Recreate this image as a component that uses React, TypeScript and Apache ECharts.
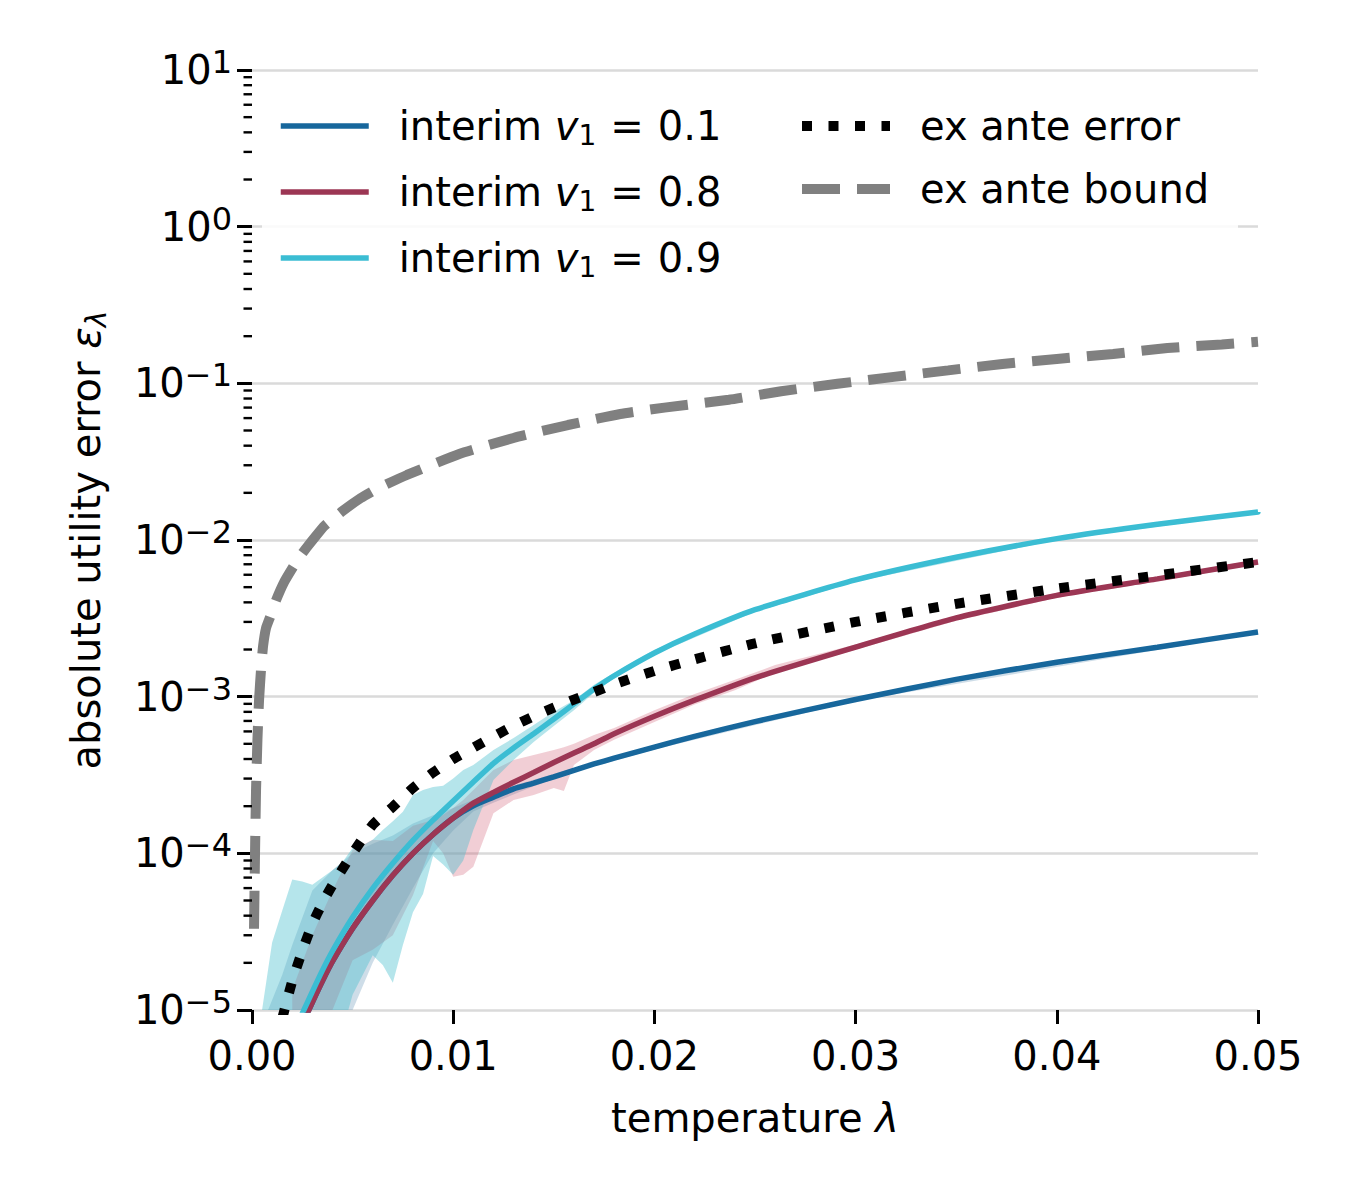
import React, { useEffect, useRef } from "react";
import * as echarts from "echarts";

const FONT = "DejaVu Sans";

// ---------- data ----------
const lambdas = [0.002, 0.0025, 0.003, 0.0035, 0.004, 0.005, 0.006, 0.007, 0.008, 0.009, 0.01, 0.011, 0.012, 0.013, 0.014, 0.015, 0.016, 0.017, 0.018, 0.02, 0.022, 0.025, 0.03, 0.035, 0.04, 0.045, 0.05];
const interim01 = [5.75e-6, 8.1e-6, 1.12e-5, 1.53e-5, 2.04e-5, 3.31e-5, 5.0e-5, 7.24e-5, 1.0e-4, 1.32e-4, 1.68e-4, 2.01e-4, 2.28e-4, 2.58e-4, 2.81e-4, 3.08e-4, 3.39e-4, 3.72e-4, 4.05e-4, 4.76e-4, 5.58e-4, 6.93e-4, 9.6e-4, 1.29e-3, 1.66e-3, 2.07e-3, 2.59e-3];
const interim08 = [5.75e-6, 8.1e-6, 1.12e-5, 1.53e-5, 2.04e-5, 3.31e-5, 5.0e-5, 7.24e-5, 1.0e-4, 1.32e-4, 1.68e-4, 2.09e-4, 2.45e-4, 2.84e-4, 3.28e-4, 3.8e-4, 4.37e-4, 5.0e-4, 5.8e-4, 7.5e-4, 9.5e-4, 1.32e-3, 2.07e-3, 3.18e-3, 4.43e-3, 5.65e-3, 7.24e-3];
const interim09 = [6.8e-6, 9.5e-6, 1.31e-5, 1.79e-5, 2.38e-5, 3.91e-5, 5.98e-5, 8.65e-5, 1.21e-4, 1.63e-4, 2.16e-4, 2.85e-4, 3.75e-4, 4.7e-4, 5.8e-4, 7.2e-4, 9.0e-4, 1.12e-3, 1.36e-3, 1.9e-3, 2.51e-3, 3.59e-3, 5.56e-3, 7.76e-3, 1.02e-2, 1.26e-2, 1.51e-2];

const exAnteLambdas = [0.0015, 0.002, 0.0025, 0.003, 0.0035, 0.004, 0.005, 0.006, 0.007, 0.008, 0.009, 0.01, 0.011, 0.012, 0.013, 0.014, 0.015, 0.016, 0.017, 0.018, 0.02, 0.022, 0.025, 0.03, 0.035, 0.04, 0.045, 0.05];
const exAnteError = [8.8e-6, 1.53e-5, 2.38e-5, 3.54e-5, 4.82e-5, 6.28e-5, 1.0e-4, 1.52e-4, 1.98e-4, 2.61e-4, 3.28e-4, 4.0e-4, 4.72e-4, 5.56e-4, 6.52e-4, 7.5e-4, 8.5e-4, 9.58e-4, 1.07e-3, 1.2e-3, 1.46e-3, 1.73e-3, 2.19e-3, 3.0e-3, 3.91e-3, 4.9e-3, 5.94e-3, 7.24e-3];

const boundLambdas = [0.0001, 0.00015, 0.0002, 0.00027, 0.00035, 0.00045, 0.00055, 0.0007, 0.0009, 0.0012, 0.0016, 0.0021, 0.0024, 0.0027, 0.0032, 0.0036, 0.0045, 0.0054, 0.0062, 0.0077, 0.0103, 0.013, 0.0157, 0.0183, 0.0205, 0.0237, 0.0263, 0.0291, 0.0319, 0.0346, 0.0373, 0.04, 0.0428, 0.0455, 0.0482, 0.05];
const exAnteBound = [3.3e-5, 1.0e-4, 2.5e-4, 5.3e-4, 9.5e-4, 1.5e-3, 2.1e-3, 2.75e-3, 3.23e-3, 4.14e-3, 5.4e-3, 6.92e-3, 7.9e-3, 8.89e-3, 1.07e-2, 1.23e-2, 1.53e-2, 1.85e-2, 2.12e-2, 2.6e-2, 3.54e-2, 4.48e-2, 5.42e-2, 6.37e-2, 7.0e-2, 7.85e-2, 8.9e-2, 9.93e-2, 0.11, 0.121, 0.133, 0.143, 0.154, 0.168, 0.177, 0.184];

// spread bands (lower / upper)
const band09Lambdas = [0.0005, 0.001, 0.0015, 0.002, 0.0025, 0.003, 0.0035, 0.004, 0.0045, 0.005, 0.0055, 0.006, 0.0065, 0.007, 0.0075, 0.008, 0.0085, 0.009, 0.0095, 0.01, 0.0105, 0.011, 0.012, 0.013, 0.014, 0.015, 0.016, 0.017, 0.018, 0.02, 0.025, 0.03, 0.04, 0.05];
const band09Hi = [1.0e-5, 2.7e-5, 4.3e-5, 6.8e-5, 6.6e-5, 6.3e-5, 7.0e-5, 7.8e-5, 8.8e-5, 1.08e-4, 1.12e-4, 1.22e-4, 1.41e-4, 1.6e-4, 1.84e-4, 2.36e-4, 2.54e-4, 2.65e-4, 2.7e-4, 3.0e-4, 3.4e-4, 3.66e-4, 4.57e-4, 5.44e-4, 6.6e-4, 8.0e-4, 9.5e-4, 1.19e-3, 1.42e-3, 1.99e-3, 3.7e-3, 5.7e-3, 1.04e-2, 1.54e-2];
const band09Lo = [1e-6, 1e-6, 1e-6, 1e-6, 1e-6, 2e-6, 3e-6, 5e-6, 7.4e-6, 1.25e-5, 1.67e-5, 2.24e-5, 1.94e-5, 1.49e-5, 2.6e-5, 4.2e-5, 5.5e-5, 9.6e-5, 8.5e-5, 7.3e-5, 9.0e-5, 1.41e-4, 2.94e-4, 3.94e-4, 5.14e-4, 6.5e-4, 8.2e-4, 1.06e-3, 1.31e-3, 1.85e-3, 3.48e-3, 5.42e-3, 1.0e-2, 1.48e-2];

const band08Lambdas = [0.002, 0.003, 0.004, 0.005, 0.006, 0.007, 0.008, 0.009, 0.0095, 0.01, 0.0105, 0.011, 0.012, 0.013, 0.014, 0.015, 0.0155, 0.016, 0.017, 0.018, 0.02, 0.022, 0.024, 0.026, 0.03, 0.035, 0.04, 0.045, 0.05];
const band08Hi = [1.34e-5, 3.0e-5, 5.8e-5, 1.05e-4, 1.22e-4, 1.2e-4, 1.5e-4, 1.63e-4, 1.76e-4, 1.95e-4, 2.19e-4, 2.54e-4, 3.4e-4, 3.94e-4, 4.25e-4, 4.57e-4, 4.75e-4, 5.0e-4, 5.7e-4, 6.3e-4, 8.2e-4, 1.04e-3, 1.28e-3, 1.59e-3, 2.15e-3, 3.3e-3, 4.6e-3, 5.85e-3, 7.5e-3];
const band08Lo = [5e-6, 8e-6, 1.0e-5, 2.08e-5, 2.42e-5, 3.0e-5, 5.4e-5, 1.2e-4, 1.0e-4, 7.1e-5, 7.3e-5, 8.2e-5, 1.8e-4, 2.19e-4, 2.36e-4, 2.61e-4, 2.5e-4, 3.66e-4, 4.57e-4, 5.3e-4, 6.9e-4, 8.9e-4, 1.1e-3, 1.42e-3, 1.99e-3, 3.05e-3, 4.28e-3, 5.45e-3, 7.0e-3];

const band01Lambdas = [0.0008, 0.0015, 0.002, 0.003, 0.004, 0.005, 0.006, 0.007, 0.008, 0.009, 0.01, 0.011, 0.012, 0.014, 0.016, 0.02, 0.03, 0.05];
const band01Hi = [1.0e-5, 1.67e-5, 2.6e-5, 5.8e-5, 7.8e-5, 1.0e-4, 1.15e-4, 1.3e-4, 1.55e-4, 1.75e-4, 1.95e-4, 2.2e-4, 2.5e-4, 2.95e-4, 3.5e-4, 4.9e-4, 9.8e-4, 2.63e-3];
const band01Lo = [1e-6, 1e-6, 1e-6, 1e-6, 5e-6, 1.0e-5, 2.0e-5, 3.5e-5, 6.0e-5, 1.0e-4, 1.4e-4, 1.85e-4, 2.1e-4, 2.68e-4, 3.3e-4, 4.6e-4, 9.4e-4, 2.55e-3];

// ---------- tick labels ----------
const xTickLabels = ["0.00", "0.01", "0.02", "0.03", "0.04", "0.05"];
const yTickExponents = [-5, -4, -3, -2, -1, 0, 1];
const minorMantissas = [2, 3, 4, 5, 6, 7, 8, 9];

// ---------- names ----------
const N01 = "interim v1 = 0.1";
const N08 = "interim v1 = 0.8";
const N09 = "interim v1 = 0.9";
const NERR = "ex ante error";
const NBND = "ex ante bound";
const legendLabels: Record<string, string> = {
  [N01]: "{a|interim }{v|v}{s|1}{eq|=}{a|0.1}",
  [N08]: "{a|interim }{v|v}{s|1}{eq|=}{a|0.8}",
  [N09]: "{a|interim }{v|v}{s|1}{eq|=}{a|0.9}",
  [NERR]: "{a|ex ante error}",
  [NBND]: "{a|ex ante bound}",
};

const C_BLUE = "#17679c";
const C_RED = "#9c3654";
const C_CYAN = "#3bbdd3";

const LF = 40;
const legendRich = {
  a: { fontSize: LF, fontFamily: FONT, color: "#000", lineHeight: 46 },
  v: { fontSize: LF, fontFamily: FONT, fontStyle: "italic", color: "#000", lineHeight: 46 },
  s: { fontSize: 28, fontFamily: FONT, color: "#000", lineHeight: 27, verticalAlign: "bottom" },
  eq: { fontSize: LF, fontFamily: FONT, color: "#000", lineHeight: 46, padding: [0, 14, 0, 14] },
};

function supLabel(v: number) {
  const e = Math.round(Math.log10(v));
  const exp = yTickExponents.includes(e) ? e : e;
  const s = exp < 0 ? "\u2212" + Math.abs(exp) : String(exp);
  return `{b|10}{sup|${s}}`;
}

function bandSeries(name: string, xs: number[], lo: number[], hi: number[], fill: string) {
  return {
    type: "custom",
    name,
    silent: true,
    clip: true,
    z: 1,
    data: xs.map((x, i) => [x, lo[i], hi[i]]),
    encode: { x: 0, y: [1, 2] },
    renderItem: (params: any, api: any) => {
      if (params.dataIndex !== 0) return null;
      const upper = xs.map((x, i) => api.coord([x, hi[i]]));
      const lower = xs.map((x, i) => api.coord([x, lo[i]])).reverse();
      return {
        type: "polygon",
        shape: { points: upper.concat(lower) },
        style: { fill, stroke: null, lineWidth: 0 },
      };
    },
  };
}

function lineSeries(name: string, xs: number[], ys: number[], color: string, width: number, type: any, z: number, smooth = 0.2) {
  return {
    type: "line",
    name,
    data: xs.map((x, i) => [x, ys[i]]),
    symbol: "none",
    showSymbol: false,
    smooth,
    clip: true,
    color,
    z,
    lineStyle: { color, width, type, cap: "butt" },
    emphasis: { disabled: true },
  };
}

export default function App() {
  const ref = useRef<HTMLDivElement>(null);

  useEffect(() => {
    document.body.style.margin = "0";
    if (!ref.current) return;
    const chart = echarts.init(ref.current, undefined, { renderer: "svg" });

    const minorTickValues: number[] = [];
    for (let e = -5; e < 1; e++) {
      for (const m of minorMantissas) minorTickValues.push(m * Math.pow(10, e));
    }

    const legendCommon = {
      orient: "vertical",
      padding: 0,
      itemGap: 23,
      itemWidth: 88,
      itemHeight: 14,
      top: 106,
      selectedMode: false,
      formatter: (name: string) => legendLabels[name],
      textStyle: { fontSize: LF, fontFamily: FONT, color: "#000", padding: [0, 0, 0, 25], rich: legendRich },
      itemStyle: { opacity: 0, borderWidth: 0 },
      lineStyle: { width: "inherit", opacity: 1 },
    };

    const option: any = {
      animation: false,
      backgroundColor: "#ffffff",
      textStyle: { fontFamily: FONT },
      grid: { left: 252, right: 92, top: 70, bottom: 190, containLabel: false },
      xAxis: {
        type: "value",
        min: 0,
        max: 0.05,
        interval: 0.01,
        axisLine: { show: false },
        axisTick: { show: true, length: 14, lineStyle: { color: "#000", width: 3 } },
        axisLabel: {
          margin: 26,
          fontSize: 40,
          color: "#000",
          fontFamily: FONT,
          formatter: (v: number) => xTickLabels[Math.round(v / 0.01)],
        },
        splitLine: { show: false },
        name: "temperature {i|λ}",
        nameLocation: "middle",
        nameGap: 84,
        nameTextStyle: {
          fontSize: 40,
          color: "#000",
          fontFamily: FONT,
          lineHeight: 48,
          rich: { i: { fontStyle: "italic", fontSize: 40, fontFamily: FONT, color: "#000", lineHeight: 48 } },
        },
      },
      yAxis: {
        type: "log",
        logBase: 10,
        min: 1e-5,
        max: 10,
        axisLine: { show: false },
        axisTick: { show: true, length: 15, lineStyle: { color: "#000", width: 3 } },
        axisLabel: {
          margin: 20,
          color: "#000",
          formatter: (v: number) => supLabel(v),
          rich: {
            b: { fontSize: 40, fontFamily: FONT, color: "#000", lineHeight: 48 },
            sup: { fontSize: 32, fontFamily: FONT, color: "#000", lineHeight: 25, verticalAlign: "top" },
          },
        },
        splitLine: { show: true, lineStyle: { color: "#dadada", width: 2.5 } },
        name: "absolute utility error {e|ε}{s|λ}",
        nameLocation: "middle",
        nameGap: 142,
        nameRotate: 90,
        nameTextStyle: {
          fontSize: 40,
          color: "#000",
          fontFamily: FONT,
          lineHeight: 48,
          rich: {
            e: { fontStyle: "italic", fontSize: 40, fontFamily: FONT, color: "#000", lineHeight: 48 },
            s: { fontStyle: "italic", fontSize: 28, fontFamily: FONT, color: "#000", lineHeight: 28, verticalAlign: "bottom" },
          },
        },
      },
      legend: [
        { ...legendCommon, left: 278, data: [N01, N08, N09] },
        { ...legendCommon, left: 797, data: [NERR, NBND] },
      ],
      graphic: [
        {
          type: "rect",
          z: 1,
          silent: true,
          shape: { x: 262, y: 92, width: 976, height: 200, r: 8 },
          style: { fill: "rgba(255,255,255,0.85)" },
        },
      ],
      series: [
        bandSeries("band01", band01Lambdas, band01Lo, band01Hi, "rgba(30,100,150,0.22)"),
        bandSeries("band08", band08Lambdas, band08Lo, band08Hi, "rgba(205,80,105,0.28)"),
        bandSeries("band09", band09Lambdas, band09Lo, band09Hi, "rgba(70,190,205,0.40)"),
        lineSeries(N01, lambdas, interim01, C_BLUE, 5.5, "solid", 3),
        lineSeries(N08, lambdas, interim08, C_RED, 5.5, "solid", 3),
        lineSeries(N09, lambdas, interim09, C_CYAN, 5.5, "solid", 3),
        lineSeries(NERR, exAnteLambdas, exAnteError, "#000000", 10, [10, 16.5], 4),
        lineSeries(NBND, boundLambdas, exAnteBound, "#808080", 10, [38, 17], 4, 0.15),
        {
          type: "custom",
          name: "minorTicks",
          silent: true,
          clip: false,
          z: 6,
          data: minorTickValues.map((v) => [0, v]),
          renderItem: (params: any, api: any) => {
            const p = api.coord([api.value(0), api.value(1)]);
            return {
              type: "line",
              shape: { x1: p[0] - 8.5, y1: p[1], x2: p[0], y2: p[1] },
              style: { stroke: "#000", lineWidth: 2.4 },
            };
          },
        },
      ],
    };

    chart.setOption(option);
    return () => chart.dispose();
  }, []);

  return <div ref={ref} style={{ width: 1350, height: 1200 }} />;
}
